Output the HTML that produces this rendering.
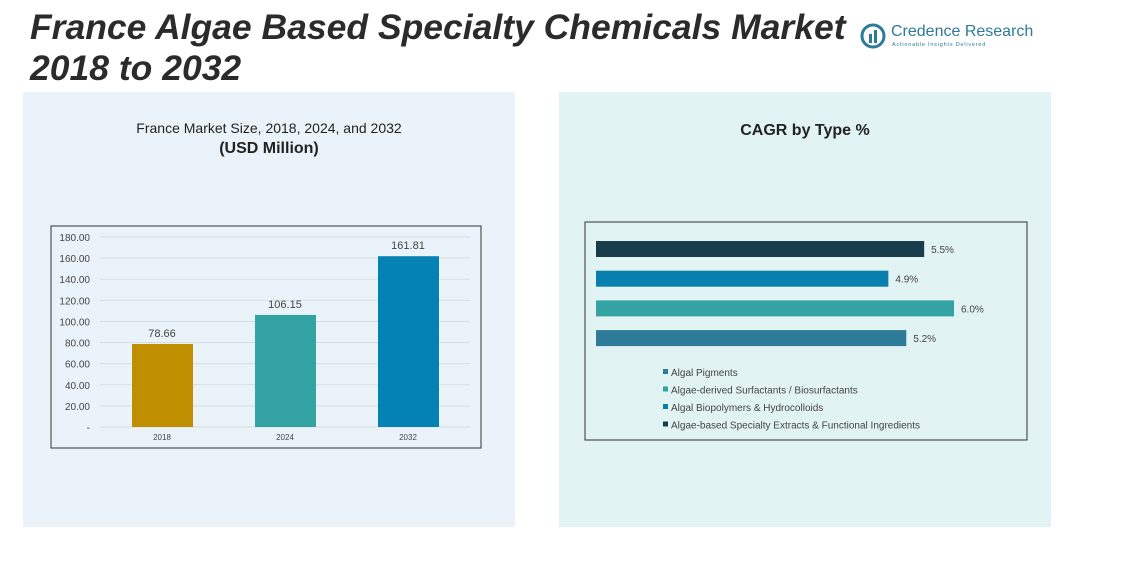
<!DOCTYPE html>
<html><head><meta charset="utf-8"><style>
body{margin:0;width:1128px;height:562px;background:#fff;position:relative;overflow:hidden;font-family:"Liberation Sans",sans-serif}
.a{position:absolute;white-space:nowrap}
</style></head><body>
<div class="a" style="left:23px;top:92px;width:492px;height:435px;background:#eaf3f9"></div>
<div class="a" style="left:559px;top:92px;width:492px;height:435px;background:#e2f3f3"></div>
<div class="a" style="left:30px;top:7px;font-size:35.5px;font-weight:bold;font-style:italic;color:#2b2b2b;line-height:41px">France Algae Based Specialty Chemicals Market<br>2018 to 2032</div>
<div class="a" style="left:860px;top:22px;width:170px;height:30px">
<svg width="28" height="28" style="position:absolute;left:0;top:0"><circle cx="13" cy="14" r="11" fill="none" stroke="#2e7a99" stroke-width="3"/><rect x="9" y="12" width="3" height="9" fill="#2e7a99"/><rect x="14" y="8" width="3" height="13" fill="#2e7a99"/></svg>
<div class="a" style="left:31px;top:1px;font-size:16px;color:#2e7a99">Credence Research</div>
<div class="a" style="left:32px;top:20px;font-size:5.5px;color:#2e7a99;letter-spacing:0.8px">Actionable Insights Delivered</div></div>
<div class="a" style="left:23px;width:492px;top:120px;text-align:center;font-size:14px;color:#222">France Market Size, 2018, 2024, and 2032</div>
<div class="a" style="left:23px;width:492px;top:140px;text-align:center;font-size:16px;font-weight:bold;color:#222">(USD Million)</div>
<div class="a" style="left:559px;width:492px;top:122px;text-align:center;font-size:16px;font-weight:bold;color:#222">CAGR by Type %</div>
<svg class="a" style="left:0;top:0" width="1128" height="562" id="svg"></svg>
<script>
const years=["2018","2024","2032"];
const sizes=[78.66,106.15,161.81];
const sizeColors=["#c08f00","#33a3a3","#0582b4"];
const yTicks=[0,20,40,60,80,100,120,140,160,180];
const types=["Algae-based Specialty Extracts & Functional Ingredients","Algal Biopolymers & Hydrocolloids","Algae-derived Surfactants / Biosurfactants","Algal Pigments"];
const cagr=[5.5,4.9,6.0,5.2];
const typeColors=["#1a3d4c","#0780ae","#33a3a3","#2e7a99"];
const legendOrder=["Algal Pigments","Algae-derived Surfactants / Biosurfactants","Algal Biopolymers & Hydrocolloids","Algae-based Specialty Extracts & Functional Ingredients"];
const svg=document.getElementById('svg');const NS="http://www.w3.org/2000/svg";
function mk(t,a,p){const e=document.createElementNS(NS,t);for(const k in a)e.setAttribute(k,a[k]);(p||svg).appendChild(e);return e;}
let f=mk('rect',{x:51,y:226,width:430,height:222,fill:'none',stroke:'#333','stroke-width':1});


const y=v=>427-v*190/180;
yTicks.forEach(t=>{const g=mk('line',{x1:100,x2:470,y1:y(t),y2:y(t),stroke:'#d8dde0'});


const l=mk('text',{x:90,y:y(t)+4,'text-anchor':'end','font-size':10,fill:'#444'});l.textContent=t===0?'-':t.toFixed(2);

});
const cx=i=>162+i*123;
years.forEach((yr,i)=>{const b=mk('rect',{x:cx(i)-30,y:y(sizes[i]),width:61,height:427-y(sizes[i]),fill:sizeColors[i]});


const v=mk('text',{x:cx(i),y:y(sizes[i])-7,'text-anchor':'middle','font-size':11,fill:'#444'});v.textContent=sizes[i].toFixed(2);


const xl=mk('text',{x:cx(i),y:440,'text-anchor':'middle','font-size':8,fill:'#444'});xl.textContent=yr;

});
let f2=mk('rect',{x:585,y:222,width:442,height:218,fill:'none',stroke:'#333','stroke-width':1});


const xs=v=>596+v*358/6.0;
types.forEach((t,i)=>{const cy=249+i*29.7;const b=mk('rect',{x:596,y:cy-8,width:xs(cagr[i])-596,height:16,fill:typeColors[i]});


const v=mk('text',{x:xs(cagr[i])+7,y:cy+4,'font-size':10,fill:'#444'});v.textContent=cagr[i].toFixed(1)+'%';

});
legendOrder.forEach((t,i)=>{const ly=373+i*17.5;const c=typeColors[types.indexOf(t)];
const s=mk('rect',{x:663,y:ly-4,width:5,height:5,fill:c});


const l=mk('text',{x:671,y:ly+3,'font-size':10,fill:'#444'});l.textContent=t;

});
</script>
</body></html>
